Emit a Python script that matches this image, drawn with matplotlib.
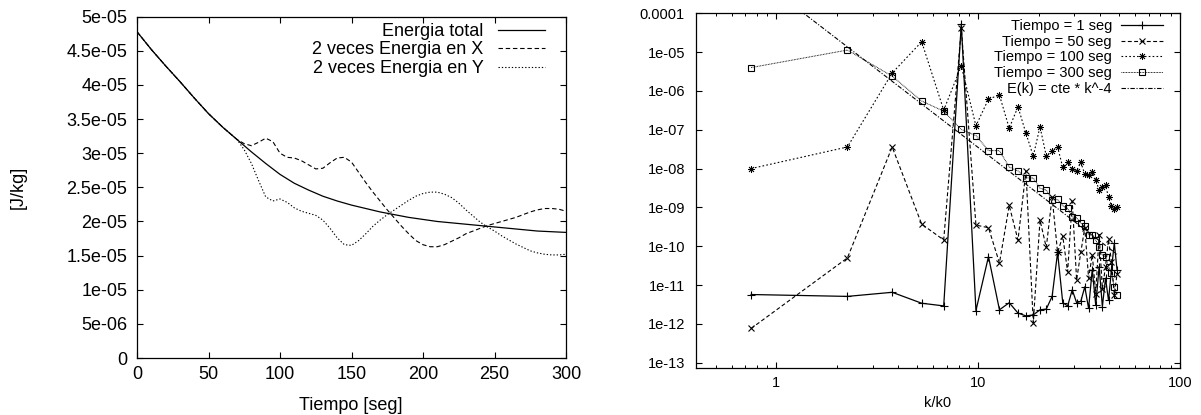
import matplotlib
matplotlib.use("Agg")
import matplotlib.pyplot as plt
import numpy as np

plt.rcParams['font.family'] = ['Liberation Sans', 'DejaVu Sans']

# ---- left panel: energia vs tiempo ----
t_tot = [0, 10, 20, 30, 40, 50, 60, 70, 80, 90, 100, 110, 120, 130, 140, 150,
         160, 170, 180, 190, 200, 210, 220, 230, 240, 250, 260, 270, 280, 290, 300]
e_tot = [4.78, 4.52, 4.28, 4.05, 3.81, 3.58, 3.38, 3.20, 3.02, 2.85, 2.69, 2.56,
         2.46, 2.37, 2.30, 2.24, 2.19, 2.14, 2.10, 2.06, 2.03, 2.00, 1.98, 1.96,
         1.94, 1.92, 1.90, 1.88, 1.86, 1.85, 1.84]

t_xy = [0, 10, 20, 30, 40, 50, 60, 65, 70, 75, 80, 85, 90, 95, 100, 105, 110, 115,
        120, 125, 130, 135, 140, 145, 150, 155, 160, 165, 170, 175, 180, 185, 190,
        195, 200, 205, 210, 215, 220, 225, 230, 235, 240, 245, 250, 255, 260, 265,
        270, 275, 280, 285, 290, 295, 300]
e_x = [4.78, 4.52, 4.28, 4.05, 3.81, 3.58, 3.38, 3.29, 3.20, 3.14, 3.11, 3.16, 3.22,
       3.17, 3.00, 2.94, 2.93, 2.89, 2.83, 2.77, 2.78, 2.86, 2.93, 2.94, 2.87, 2.72,
       2.57, 2.43, 2.30, 2.17, 2.05, 1.93, 1.82, 1.72, 1.66, 1.63, 1.63, 1.66, 1.71,
       1.76, 1.82, 1.86, 1.90, 1.94, 1.97, 2.00, 2.03, 2.06, 2.10, 2.14, 2.17, 2.19,
       2.19, 2.18, 2.15]
e_y = [4.78, 4.52, 4.28, 4.05, 3.81, 3.58, 3.38, 3.29, 3.20, 3.05, 2.85, 2.60, 2.36,
       2.30, 2.33, 2.28, 2.20, 2.15, 2.12, 2.09, 2.02, 1.90, 1.76, 1.66, 1.65, 1.72,
       1.82, 1.93, 2.02, 2.10, 2.17, 2.24, 2.31, 2.37, 2.41, 2.43, 2.43, 2.40, 2.35,
       2.27, 2.17, 2.08, 1.99, 1.92, 1.86, 1.79, 1.73, 1.67, 1.62, 1.57, 1.54, 1.52,
       1.51, 1.51, 1.52]

# ---- right panel: espectro ----
k = [0.75, 2.25, 3.75, 5.25, 6.75, 8.25, 9.75, 11.25, 12.75, 14.25, 15.75, 17.25,
     18.75, 20.25, 21.75, 23.25, 24.75, 26.25, 27.75, 29.25, 30.75, 32.25, 33.75,
     35.25, 36.75, 38.25, 39.75, 41.25, 42.75, 44.25, 45.75, 47.25, 48.75]
s1 = [5.7e-12, 5.1e-12, 6.5e-12, 3.4e-12, 2.9e-12, 5.3e-05, 2.2e-12, 5.4e-11,
      2.3e-12, 3.5e-12, 1.9e-12, 1.6e-12, 1.7e-12, 2.3e-12, 2.4e-12, 5.1e-12,
      6.9e-11, 3.5e-12, 2.9e-12, 7.5e-12, 3.5e-12, 3.8e-12, 9e-12, 2.5e-12,
      2.5e-11, 3e-12, 3e-11, 2.8e-12, 1.5e-11, 4e-12, 2.5e-11, 1.2e-10, 2.5e-11]
s50 = [7.6e-13, 5.0e-11, 3.6e-08, 3.7e-10, 1.45e-10, 4.1e-05, 3.5e-10, 3.0e-10,
       3.7e-11, 1.12e-09, 1.44e-10, 8.7e-09, 1.07e-12, 4.7e-10, 9.3e-11, 1.85e-09,
       6.9e-11, 1.8e-10, 2.2e-11, 1.44e-09, 1.35e-11, 7e-11, 3e-10, 1.5e-11,
       6e-11, 6e-12, 2e-10, 8e-12, 3e-11, 1.5e-10, 4e-11, 5.6e-12, 1.9e-11]
s100 = [1e-08, 3.6e-08, 2.9e-06, 1.85e-05, 3.2e-07, 4.4e-06, 1.26e-07, 6.2e-07,
        7.8e-07, 1.1e-07, 3.9e-07, 8.1e-08, 2.1e-08, 1.2e-07, 2.1e-08, 2.9e-08,
        3.6e-08, 1.07e-08, 1.45e-08, 9.8e-09, 8.8e-09, 1.45e-08, 7.2e-09, 6.8e-09,
        8e-09, 5e-09, 2.8e-09, 3.4e-09, 3.7e-09, 1.85e-09, 1.1e-09, 9.3e-10, 1.04e-09]
s300 = [4e-06, 1.13e-05, 2.4e-06, 5.5e-07, 3.0e-07, 1.02e-07, 7.1e-08, 2.9e-08,
        2.9e-08, 1.1e-08, 8.7e-09, 5.8e-09, 5.7e-09, 3.1e-09, 2.8e-09, 1.56e-09,
        1.6e-09, 1.1e-09, 9.4e-10, 5.7e-10, 5.4e-10, 3.9e-10, 3.3e-10, 2.0e-10,
        1.9e-10, 1.44e-10, 9.3e-11, 5.9e-11, 5.4e-11, 3.0e-11, 2.0e-11, 9e-12, 5.7e-12]
ek = [1.106e-03, 1.366e-05, 1.77e-06, 4.61e-07, 1.686e-07, 7.56e-08, 3.87e-08,
      2.185e-08, 1.324e-08, 8.49e-09, 5.69e-09, 3.95e-09, 2.83e-09, 2.08e-09,
      1.564e-09, 1.198e-09, 9.33e-10, 7.37e-10, 5.90e-10, 4.78e-10, 3.91e-10,
      3.24e-10, 2.70e-10, 2.27e-10, 1.92e-10, 1.635e-10, 1.402e-10, 1.209e-10,
      1.048e-10, 9.13e-11, 7.99e-11, 7.02e-11, 6.20e-11]

W, H = 1201, 415
fig = plt.figure(figsize=(W / 100, H / 100), dpi=100)

# left
ax1 = fig.add_axes([137 / W, 1 - 358 / H, (566 - 137) / W, (358 - 16.7) / H])
sc = 1e-5
ax1.plot(t_tot, np.array(e_tot) * sc, color='black', lw=0.9, label='Energia total')
ax1.plot(t_xy, np.array(e_x) * sc, color='black', lw=0.8, dashes=(4, 2.5),
         label='2 veces Energia en X')
ax1.plot(t_xy, np.array(e_y) * sc, color='black', lw=0.8, dashes=(1.2, 1.8),
         label='2 veces Energia en Y')
ax1.set_xlim(0, 300)
ax1.set_ylim(0, 5e-5)
yt = [i * 5e-6 for i in range(11)]
ylab = ['0', '5e-06', '1e-05', '1.5e-05', '2e-05', '2.5e-05', '3e-05', '3.5e-05',
        '4e-05', '4.5e-05', '5e-05']
ax1.set_yticks(yt, ylab)
ax1.set_xticks([0, 50, 100, 150, 200, 250, 300], ['0', '50', '100', '150', '200', '250', '300'])
ax1.tick_params(direction='in', top=True, right=True, length=4.5, width=0.8,
                labelsize=13, pad=7)
ax1.tick_params(axis='x', pad=6)
for s in ax1.spines.values():
    s.set_linewidth(0.9)
leg1 = ax1.legend(loc='upper right', bbox_to_anchor=(545 / W, 1 - 23 / H),
                  bbox_transform=fig.transFigure, frameon=False, markerfirst=False,
                  fontsize=13, handlelength=2.6, handletextpad=0.8, labelspacing=0.08,
                  borderpad=0, borderaxespad=0)
leg1._legend_box.align = 'right'
fig.text(351 / W, 1 - 405 / H, 'Tiempo [seg]', ha='center', va='center', fontsize=13)
fig.text(18 / W, 1 - 187 / H, '[J/kg]', ha='center', va='center', fontsize=13,
         rotation=90)

# right
ax2 = fig.add_axes([696 / W, 1 - 368 / H, (1180 - 696) / W, (368 - 13.3) / H])
ax2.plot(k, s1, color='black', lw=0.9, marker='+', ms=6, mew=0.8,
         label='Tiempo = 1 seg')
ax2.plot(k, s50, color='black', lw=0.8, dashes=(3.5, 2.2), marker='x', ms=4.5, mew=0.8,
         label='Tiempo = 50 seg')
ax2.plot(k, s100, color='black', lw=0.8, dashes=(1.5, 2), marker=(8, 2, 0), ms=5,
         mew=0.6, label='Tiempo = 100 seg')
ax2.plot(k, s300, color='black', lw=0.7, dashes=(0.8, 0.8), marker='s', ms=4.5,
         mfc='none', mew=0.8, label='Tiempo = 300 seg')
ax2.plot(k, ek, color='black', lw=0.8, dashes=(4, 1.5, 1, 1.5),
         label='E(k) = cte * k^-4')
ax2.set_xscale('log')
ax2.set_yscale('log')
ax2.set_xlim(0.4, 100)
ax2.set_ylim(10 ** -13.137, 1e-4)
ydec = [10.0 ** e for e in range(-13, -3)]
ydec_lab = ['1e-13', '1e-12', '1e-11', '1e-10', '1e-09', '1e-08', '1e-07', '1e-06',
            '1e-05', '0.0001']
ax2.set_yticks(ydec, ydec_lab)
ax2.yaxis.set_minor_locator(matplotlib.ticker.NullLocator())
ax2.set_xticks([1, 10, 100], ['1', '10', '100'])
ax2.xaxis.set_minor_locator(matplotlib.ticker.LogLocator(base=10, subs=np.arange(2, 10)))
ax2.xaxis.set_minor_formatter(matplotlib.ticker.NullFormatter())
ax2.tick_params(which='major', direction='in', top=True, right=True, length=4,
                width=0.8, labelsize=10.5, pad=8)
ax2.tick_params(which='minor', direction='in', top=True, right=True, length=2,
                width=0.7)
ax2.tick_params(axis='x', which='major', pad=6)
for s in ax2.spines.values():
    s.set_linewidth(0.9)
leg2 = ax2.legend(loc='upper right', bbox_to_anchor=(1163 / W, 1 - 19 / H),
                  bbox_transform=fig.transFigure, frameon=False, markerfirst=False,
                  fontsize=10.5, handlelength=2.9, handletextpad=0.6, labelspacing=0.12,
                  borderpad=0, borderaxespad=0, numpoints=1)
leg2._legend_box.align = 'right'
fig.text(938 / W, 1 - 403 / H, 'k/k0', ha='center', va='center', fontsize=10.5)

fig.savefig('out.png', dpi=100)
